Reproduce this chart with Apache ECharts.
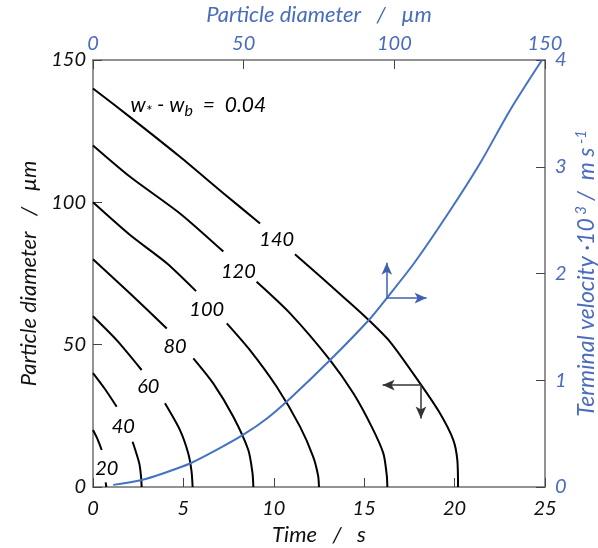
<!DOCTYPE html>
<html>
<head>
<meta charset="utf-8">
<script src="https://cdn.jsdelivr.net/npm/echarts/dist/echarts.min.js"></script>
<style>
html, body { margin: 0; padding: 0; background: #fff; }
#chart { width: 598px; height: 548px; }
</style>
</head>
<body>
<div id="chart"></div>
<script>
// ticks
var timeTicks = [0, 5, 10, 15, 20, 25];
var diamTicks = [0, 50, 100, 150];
var velTicks = [0, 1, 2, 3, 4];

// particle diameter (um) against time (s), null = gap for the label
var time20 = [0, 0.25, 0.48, null, 0.70, 0.74];
var diam20 = [20, 16.8, 13.0, null, 1.6, 0];
var time40 = [0, 0.65, 1.31, null, 2.19, 2.56, 2.66, 2.69];
var diam40 = [40, 34.5, 28.2, null, 15.9, 8.3, 3.5, 0];
var time60 = [0, 1.31, 2.69, null, 3.98, 4.81, 5.27, 5.45, 5.51];
var diam60 = [60, 51.6, 41.1, null, 29.4, 20.0, 11.8, 5.5, 0];
var time80 = [0, 2.05, 4.08, null, 5.55, 6.65, 7.76, 8.59, 8.82, 8.87];
var diam80 = [80, 68.0, 55.7, null, 45.2, 36.4, 24.7, 13.0, 5, 0];
var time100 = [0, 2.05, 4.08, 5.70, null, 7.40, 8.68, 10.16, 11.45, 12.18, 12.45, 12.50];
var diam100 = [100, 88.5, 78.6, 68.8, null, 57.5, 48.1, 35.2, 21.2, 10.6, 4, 0];
var time120 = [0, 2.05, 4.81, 7.21, null, 9.05, 10.90, 13.11, 14.40, 15.41, 16.06, 16.25, 16.28];
var diam120 = [120, 109.0, 96.1, 82.7, null, 72.1, 61.0, 44.6, 32.9, 21.2, 11.8, 4, 0];
var time140 = [0, 2.14, 4.81, 7.21, 9.24, null, 11.17, 14.03, 15.14, 16.43, 18.09, 19.19, 19.93, 20.15, 20.19];
var diam140 = [140, 129.5, 116.0, 103.2, 92.6, null, 81.8, 65.7, 59.3, 51.0, 36.4, 25.9, 16.5, 9.5, 0];

var curveNames = ['20', '40', '60', '80', '100', '120', '140'];
var labelTime = [0.76, 1.68, 3.06, 4.54, 6.29, 8.04, 10.16];
var labelDiam = [6.6, 21.2, 35.2, 49.3, 62.2, 75.6, 86.8];

// terminal velocity (*10^3 m/s) against particle diameter (um)
var blueDiam = [6.7, 16.2, 23.9, 32.2, 41.0, 49.9, 57.6, 65.4, 78.7, 91.4, 97.5, 106.9, 118.5, 128.4, 138.4, 149];
var blueVel = [0.02, 0.066, 0.134, 0.22, 0.347, 0.49, 0.64, 0.83, 1.19, 1.56, 1.77, 2.11, 2.59, 3.03, 3.53, 4.0];

// reading arrows
var blackArrow = { t: 18.14, d: 35.8, tEnd: 16.02, dEnd: 24.1 };
var blueArrow = { d: 97.5, v: 1.77, dEnd: 110.7, vEnd: 2.10 };

var annotTime = 2.05, annotDiam = 134.2;

var FONT = 'Lato';
var BLUE = '#4a6cbd';
var AXIS = '#6f6f6f';

function pairs(ts, ds) {
    return ts.map(function (t, i) { return t === null ? ['-', '-'] : [t, ds[i]]; });
}

function axisBase(ticks, color, pos) {
    return {
        type: 'value',
        position: pos,
        min: ticks[0],
        max: ticks[ticks.length - 1],
        interval: ticks[1] - ticks[0],
        axisLine: { show: true, onZero: false, lineStyle: { color: AXIS, width: 1.5 } },
        axisTick: { show: true, inside: true, length: 9, lineStyle: { color: '#444', width: 1 } },
        splitLine: { show: false },
        axisLabel: { fontFamily: FONT, fontStyle: 'italic', fontSize: 20, color: color },
        nameLocation: 'middle',
        nameTextStyle: { fontFamily: FONT, fontStyle: 'italic', fontSize: 22, color: color }
    };
}

var xBottom = axisBase(timeTicks, '#111', 'bottom');
xBottom.name = 'Time   /   s';
xBottom.nameGap = 37;
xBottom.axisLabel.margin = 12;

var xTop = axisBase(diamTicks, BLUE, 'top');
xTop.name = 'Particle diameter   /   \u00b5m';
xTop.nameGap = 34;
xTop.axisLabel.margin = 6;

var yLeft = axisBase(diamTicks, '#111', 'left');
yLeft.name = 'Particle diameter   /   \u00b5m';
yLeft.nameGap = 52;
yLeft.nameRotate = 90;
yLeft.axisLabel.margin = 7;

var yRight = axisBase(velTicks, BLUE, 'right');
yRight.name = 'Terminal velocity \u00b710{sup| 3} /  m s{sup| -1}';
yRight.nameGap = 29;
yRight.nameRotate = 90;
yRight.nameMoveOverlap = false;
yRight.axisLabel.margin = 10;
yRight.nameTextStyle.fontSize = 23;
yRight.nameTextStyle.rich = {
    sup: { fontFamily: FONT, fontStyle: 'italic', fontSize: 15, color: BLUE, verticalAlign: 'top', lineHeight: 26 }
};

var curveTimes = [time20, time40, time60, time80, time100, time120, time140];
var curveDiams = [diam20, diam40, diam60, diam80, diam100, diam120, diam140];

var series = [];
curveTimes.forEach(function (ts, i) {
    series.push({
        type: 'line',
        name: curveNames[i],
        xAxisIndex: 0,
        yAxisIndex: 0,
        data: pairs(ts, curveDiams[i]),
        symbol: 'none',
        smooth: 0.25,
        connectNulls: false,
        lineStyle: { color: '#000', width: 2 },
        silent: true
    });
});

// arrows on the 140 curve
series[6].markLine = {
    silent: true,
    symbol: ['none', 'arrow'],
    symbolSize: [8, 12],
    label: { show: false },
    lineStyle: { color: '#333', width: 1.5, type: 'solid' },
    data: [
        [{ coord: [blackArrow.t, blackArrow.d] }, { coord: [blackArrow.tEnd, blackArrow.d] }],
        [{ coord: [blackArrow.t, blackArrow.d] }, { coord: [blackArrow.t, blackArrow.dEnd] }]
    ]
};

series.push({
    type: 'line',
    xAxisIndex: 1,
    yAxisIndex: 1,
    data: blueDiam.map(function (d, i) { return [d, blueVel[i]]; }),
    symbol: 'none',
    smooth: 0.3,
    lineStyle: { color: '#4472c4', width: 2 },
    silent: true,
    markLine: {
        silent: true,
        symbol: ['none', 'arrow'],
        symbolSize: [8, 12],
        label: { show: false },
        lineStyle: { color: '#3f5fb0', width: 1.5, type: 'solid' },
        data: [
            [{ coord: [blueArrow.d, blueArrow.v] }, { coord: [blueArrow.d, blueArrow.vEnd] }],
            [{ coord: [blueArrow.d, blueArrow.v] }, { coord: [blueArrow.dEnd, blueArrow.v] }]
        ]
    }
});

// contour labels
series.push({
    type: 'scatter',
    xAxisIndex: 0,
    yAxisIndex: 0,
    symbolSize: 1,
    itemStyle: { color: 'rgba(0,0,0,0)', opacity: 1 },
    silent: true,
    data: curveNames.map(function (n, i) { return [labelTime[i], labelDiam[i], n]; }),
    label: {
        show: true,
        position: 'inside',
        formatter: function (p) { return p.data[2]; },
        fontFamily: FONT, fontStyle: 'italic', fontSize: 20, color: '#000'
    }
});

// w* - wb annotation
series.push({
    type: 'scatter',
    xAxisIndex: 0,
    yAxisIndex: 0,
    symbolSize: 1,
    itemStyle: { color: 'rgba(0,0,0,0)', opacity: 1 },
    silent: true,
    data: [[annotTime, annotDiam]],
    label: {
        show: true,
        position: 'right',
        distance: 0,
        formatter: 'w{sub|*} - w{sub|b}  =  0.04',
        fontFamily: FONT, fontStyle: 'italic', fontSize: 21, color: '#000',
        rich: {
            sub: { fontFamily: FONT, fontStyle: 'italic', fontSize: 16, color: '#000', verticalAlign: 'bottom', lineHeight: 28 }
        }
    }
});

var chart = echarts.init(document.getElementById('chart'));
chart.setOption({
    animation: false,
    backgroundColor: '#fff',
    grid: { left: 93, right: 53, top: 60, bottom: 61, containLabel: false, outerBoundsMode: 'none' },
    xAxis: [xBottom, xTop],
    yAxis: [yLeft, yRight],
    series: series
});
</script>
</body>
</html>
